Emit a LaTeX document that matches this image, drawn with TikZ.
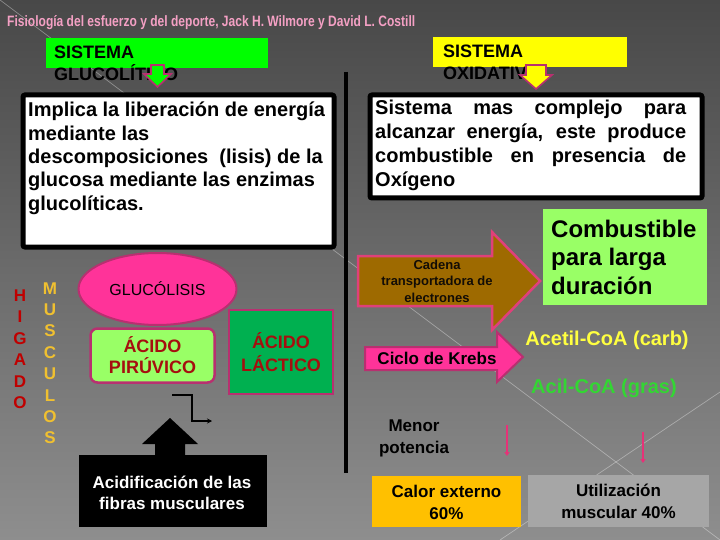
\documentclass[tikz,border=0pt]{standalone}
\usepackage{fontspec}
\setmainfont{Liberation Sans}
\usetikzlibrary{shapes.geometric,arrows.meta}
\definecolor{bgtop}{RGB}{72,72,72}
\definecolor{bgbot}{RGB}{142,142,142}
\definecolor{titlepink}{RGB}{244,160,196}
\definecolor{hgreen}{RGB}{0,255,0}
\definecolor{hyellow}{RGB}{255,255,0}
\definecolor{pinkf}{RGB}{255,51,153}
\definecolor{bordc}{RGB}{184,48,112}
\definecolor{cadbord}{RGB}{224,64,122}
\definecolor{lgreen}{RGB}{153,255,102}
\definecolor{dgreen}{RGB}{0,176,80}
\definecolor{darkred}{RGB}{165,15,15}
\definecolor{brownf}{RGB}{158,106,0}
\definecolor{acetil}{RGB}{255,255,64}
\definecolor{acil}{RGB}{51,214,51}
\definecolor{calor}{RGB}{255,192,0}
\definecolor{util}{RGB}{166,166,166}
\definecolor{higred}{RGB}{192,0,0}
\definecolor{musyel}{RGB}{240,192,48}
\definecolor{pinkarr}{RGB}{230,50,120}
\tikzset{
  hdrbox/.style={anchor=north west, inner sep=0, minimum width=#1, minimum height=30},
  hdrtext/.style={anchor=base west, inner sep=0, font=\bfseries\fontsize{18}{22}\selectfont, text=black},
  whitebox/.style={draw=black, line width=5pt, fill=white, rounded corners=2pt, anchor=north west, inner sep=0},
  smallarrow/.style={draw=bordc, line width=1.6pt, line join=miter},
  letter/.style={anchor=base, inner sep=0, font=\bfseries\fontsize{17}{19}\selectfont},
  bottombox/.style={inner sep=0, align=center, text=black, font=\bfseries\fontsize{17}{22}\selectfont},
  decoline/.style={white, opacity=0.35, line width=0.7pt}
}
\begin{document}
\begin{tikzpicture}[x=1pt,y=-1pt]
\useasboundingbox (0,0) rectangle (720,540);
\shade[top color=bgtop, bottom color=bgbot] (0,0) rectangle (720,540);
\draw[decoline] (0,0) -- (720,540);
\draw[decoline] (720,392) -- (500,540);

% title
\node[anchor=base west, inner sep=0, text=titlepink, font=\bfseries\fontsize{15}{17}\selectfont] (title) at (7,27)
  {\resizebox{408pt}{\height}{Fisiología del esfuerzo y del deporte, Jack H. Wilmore y David L. Costill}};

% headers
\node[hdrbox=222, fill=hgreen] (hg) at (46,38) {};
\node[hdrtext] (hg1) at (54,59) {SISTEMA};
\node[hdrtext] (hg2) at (54,81) {GLUCOLÍTICO};
\node[hdrbox=194, fill=hyellow] (hy) at (433,37) {};
\node[hdrtext] (hy1) at (443,58) {SISTEMA};
\node[hdrtext] (hy2) at (443,80) {OXIDATIVO};

% small down arrows
\filldraw[smallarrow, fill=hgreen] (151,65) -- (164,65) -- (164,74) -- (171,74) -- (157.5,87) -- (144,74) -- (151,74) -- cycle;
\filldraw[smallarrow, fill=hyellow] (526,65) -- (546,65) -- (546,75) -- (552,75) -- (536,89) -- (520,75) -- (526,75) -- cycle;

% divider
\coordinate (dtop) at (346,72);
\coordinate (dbot) at (346,473);
\draw[line width=3.5pt] (dtop) -- (dbot);

% left text box
\node[whitebox, minimum width=311, minimum height=152] (lbox) at (20.5,92.5) {};
\node[anchor=north west, inner sep=0, align=left, font=\bfseries\fontsize{20}{23.3}\selectfont] (ltext) at (28,102)
  {Implica la liberación de energía\\mediante las\\descomposiciones~ (lisis) de la\\glucosa mediante las enzimas\\glucolíticas.};

% right text box
\node[whitebox, minimum width=332, minimum height=103] (rbox) at (367.5,92.5) {};
\node[anchor=north west, inner sep=0, align=left, font=\bfseries\fontsize{20}{24}\selectfont] (rtext) at (375,100)
  {\makebox[311pt][s]{Sistema mas complejo para}\\
   \makebox[311pt][s]{alcanzar energía, este produce}\\
   \makebox[311pt][s]{combustible en presencia de}\\
   Oxígeno};

% HIGADO / MUSCULOS
\foreach \l [count=\i] in {H,I,G,A,D,O}
  \node[letter, text=higred] (hig\i) at (20,{301+21.5*(\i-1)}) {\l};
\foreach \l [count=\i] in {M,U,S,C,U,L,O,S}
  \node[letter, text=musyel] (mus\i) at (50,{294+21.4*(\i-1)}) {\l};

% glucolisis
\node[ellipse, fill=pinkf, draw=bordc, line width=2pt, minimum width=158, minimum height=72, inner sep=0,
      font=\fontsize{16}{19}\selectfont] (gluc) at (157.5,289) {GLUCÓLISIS};
\node[rectangle, rounded corners=7pt, fill=lgreen, draw=bordc, line width=2.5pt, minimum width=124, minimum height=54,
      inner sep=0, align=center, text=darkred, font=\bfseries\fontsize{18}{21}\selectfont] (piru) at (152.5,355.5) {ÁCIDO\\PIRÚVICO};
\node[rectangle, fill=dgreen, draw=bordc, line width=2pt, minimum width=104, minimum height=84,
      inner sep=0, align=center, text=darkred, font=\bfseries\fontsize{18}{23}\selectfont] (lact) at (281,352) {ÁCIDO\\LÁCTICO};

% step connector
\coordinate (s0) at (172,395);
\coordinate (s1) at (212,421);
\draw[line width=1.6pt, -{Stealth[length=5pt,width=5pt]}] (s0) -- (192,395) |- (s1);

% black up arrow and box
\fill[black] (170,418) -- (198,444) -- (185,444) -- (185,456) -- (155,456) -- (155,444) -- (142,444) -- cycle;
\node[fill=black, minimum width=188, minimum height=72, anchor=north west, inner sep=0] (acbox) at (79,455) {};
\node[bottombox, text=white, font=\bfseries\fontsize{17}{21}\selectfont] (actext) at (172,492.5) {Acidificación de las\\fibras musculares};

% combustible
\node[fill=lgreen, minimum width=164, minimum height=96, anchor=north west, inner sep=0] (comb) at (543,209) {};
\node[anchor=west, inner sep=0, align=left, font=\bfseries\fontsize{24}{28.5}\selectfont] (combt) at (551,257)
  {Combustible\\para larga\\duración};

% cadena arrow
\filldraw[fill=brownf, draw=cadbord, line width=2.5pt, line join=miter]
  (358,256) -- (492,256) -- (492,232) -- (540,281) -- (492,330) -- (492,306) -- (358,306) -- cycle;
\node[inner sep=0, align=center, text=black!90!brown, font=\bfseries\fontsize{13}{16.5}\selectfont] (cad) at (437,281)
  {Cadena\\transportadora de\\electrones};

% krebs arrow
\filldraw[fill=pinkf, draw=bordc, line width=2pt, line join=miter]
  (365,347) -- (497,347) -- (497,332) -- (523,357) -- (497,382) -- (497,370) -- (365,370) -- cycle;
\node[inner sep=0, font=\bfseries\fontsize{17}{20}\selectfont] (krebs) at (437,358) {Ciclo de Krebs};

% acetil / acil
\node[inner sep=0, text=acetil, font=\bfseries\fontsize{20}{23}\selectfont] (acet) at (607,340) {Acetil-CoA (carb)};
\node[inner sep=0, text=acil, font=\bfseries\fontsize{20}{23}\selectfont] (acil) at (604,388) {Acil-CoA (gras)};

% menor potencia
\node[bottombox] (menor) at (414,438) {Menor\\potencia};

% pink arrows
\coordinate (pa1) at (507,425);
\coordinate (pb1) at (507,456);
\coordinate (pa2) at (643,432);
\coordinate (pb2) at (643,463);
\draw[pinkarr, line width=1.6pt, -{Triangle[length=4pt,width=5pt]}] (pa1) -- (pb1);
\draw[pinkarr, line width=1.6pt, -{Triangle[length=4pt,width=5pt]}] (pa2) -- (pb2);

% bottom boxes
\node[fill=calor, minimum width=149, minimum height=51, inner sep=0] (calorb) at (446.5,501.5) {};
\node[bottombox] (calort) at (446.5,502) {Calor externo\\60\%};
\node[fill=util, minimum width=181, minimum height=52, inner sep=0] (utilb) at (618.5,501) {};
\node[bottombox] (utilt) at (618.5,501.5) {Utilización\\muscular 40\%};
\end{tikzpicture}
\end{document}
